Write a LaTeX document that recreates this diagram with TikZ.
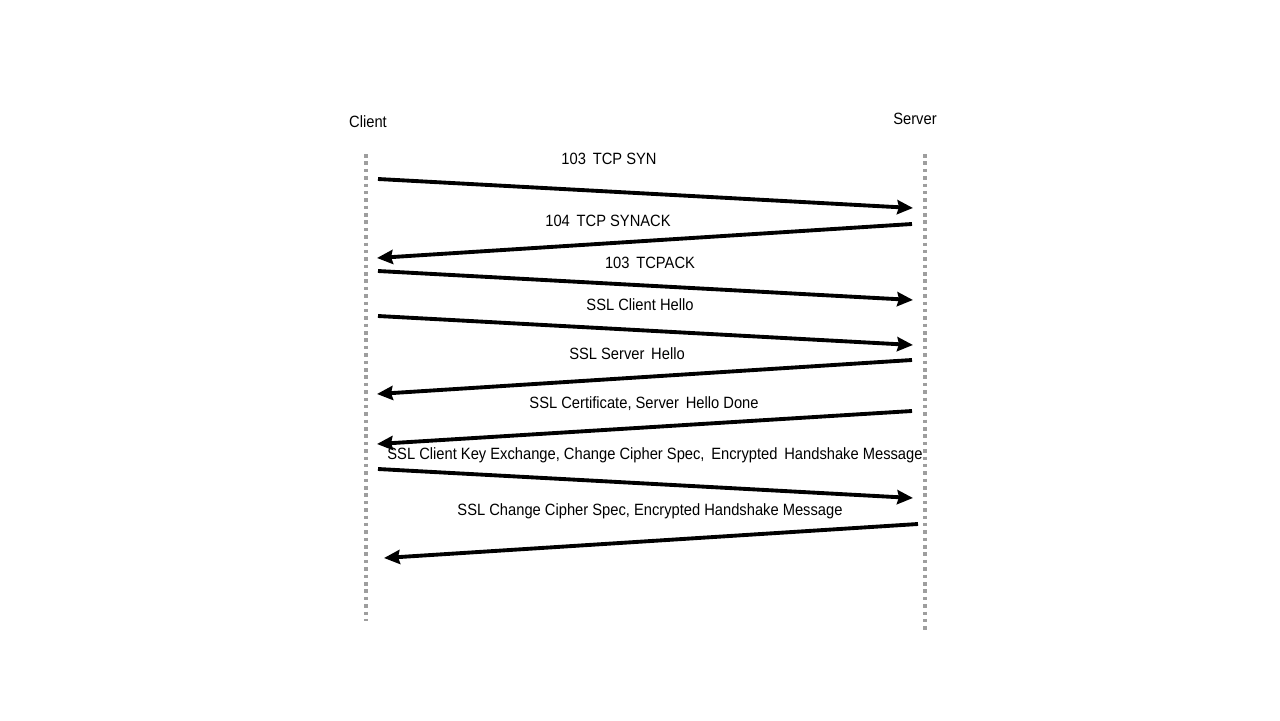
\documentclass[tikz,border=0pt]{standalone}
\usepackage{fontspec}
\setmainfont[FakeStretch=0.9]{Liberation Sans}
\usetikzlibrary{arrows.meta}
\begin{document}
\begin{tikzpicture}[x=0.02cm, y=-0.02cm,
    lifeline/.style={draw=black!38, line width=2pt, dash pattern=on 2pt off 2.2pt},
    msg/.style={line width=2.2pt, -{Stealth[length=9pt, width=8pt, inset=1pt]}},
    lbl/.style={font=\fontsize{9.3}{11}\selectfont}]
    \useasboundingbox (0,0) rectangle (1280,720);
    % participants
    \node[lbl] (client) at (368,122) {Client};
    \node[lbl] (server) at (915,119) {Server};
    \coordinate (ctop) at (366,154);
    \coordinate (cbot) at (366,621);
    \coordinate (stop) at (925,154);
    \coordinate (sbot) at (925,630);
    \draw[lifeline] (ctop) -- (cbot);
    \draw[lifeline] (stop) -- (sbot);
    % TCP handshake
    \coordinate (c1) at (378,179); \coordinate (s1) at (913,208);
    \coordinate (s2) at (912,224); \coordinate (c2) at (377,258);
    \coordinate (c3) at (378,271); \coordinate (s3) at (913,300);
    \draw[msg] (c1) -- (s1);
    \node[lbl] (syn) at (609,159) {103\, TCP SYN};
    \draw[msg] (s2) -- (c2);
    \node[lbl] (synack) at (608,221) {104\, TCP SYNACK};
    \draw[msg] (c3) -- (s3);
    \node[lbl] (ack) at (650,263) {103\, TCPACK};
    % SSL handshake
    \coordinate (c4) at (378,316); \coordinate (s4) at (913,345);
    \coordinate (s5) at (912,360); \coordinate (c5) at (377,394);
    \coordinate (s6) at (912,411); \coordinate (c6) at (377,444);
    \coordinate (c7) at (378,469); \coordinate (s7) at (913,498);
    \coordinate (s8) at (918,524); \coordinate (c8) at (384,558);
    \draw[msg] (c4) -- (s4);
    \node[lbl] (chello) at (640,305) {SSL Client Hello};
    \draw[msg] (s5) -- (c5);
    \node[lbl] (shello) at (627,354) {SSL Server\, Hello};
    \draw[msg] (s6) -- (c6);
    \node[lbl] (cert) at (644,404) {SSL Certificate, Server\, Hello Done};
    \draw[msg] (c7) -- (s7);
    \node[lbl] (keyex) at (655,455) {SSL Client Key Exchange, Change Cipher Spec,\, Encrypted\, Handshake Message};
    \draw[msg] (s8) -- (c8);
    \node[lbl] (fin) at (650,511) {SSL Change Cipher Spec, Encrypted Handshake Message};
\end{tikzpicture}
\end{document}
